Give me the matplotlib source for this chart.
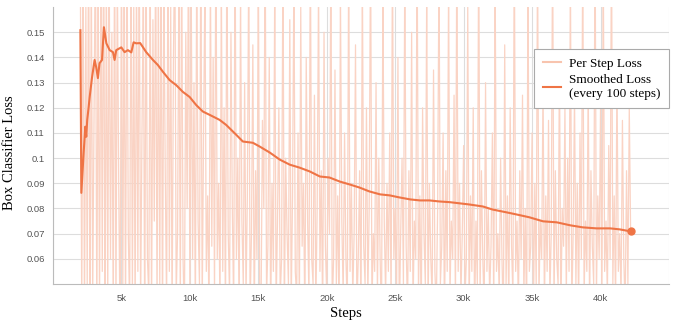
import numpy as np
import matplotlib
matplotlib.use("Agg")
import matplotlib.pyplot as plt

# per step loss (x1000), sampled every 100 steps from 2k to 42.2k
raw_steps = np.arange(2000, 42201, 100)
raw_loss = np.array([
    170, 40, 185, 35, 160, 50, 195, 30, 175, 45, 120, 190, 35, 165, 40, 180, 55, 200, 30, 170,
    45, 185, 60, 150, 35, 190, 40, 175, 90, 30, 180, 50, 165, 35, 195, 70, 40, 185, 45, 160,
    35, 175, 55, 190, 40, 110, 170, 30, 185, 60, 45, 180, 35, 155, 75, 190, 40, 165, 50, 180,
    30, 170, 95, 40, 185, 55, 160, 35, 140, 190, 45, 70, 175, 40, 185, 60, 35, 150, 80, 190,
    45, 165, 60, 130, 35, 180, 75, 50, 190, 40, 110, 170, 55, 85, 35, 175, 65, 140, 45, 195,
    60, 90, 40, 170, 55, 120, 35, 185, 70, 45, 150, 80, 40, 190, 60, 100, 35, 165, 75, 50,
    130, 45, 85, 180, 40, 70, 145, 35, 95, 60, 175, 50, 40, 115, 80, 190, 45, 65, 140, 35,
    90, 55, 170, 40, 75, 120, 45, 60, 185, 35, 100, 70, 50, 155, 40, 85, 175, 55, 45, 110,
    40, 160, 65, 90, 35, 140, 75, 45, 190, 60, 50, 125, 40, 80, 170, 55, 95, 35, 150, 65,
    45, 100, 70, 185, 40, 60, 135, 50, 85, 35, 165, 75, 45, 110, 60, 40, 180, 55, 90, 45,
    70, 145, 40, 60, 95, 35, 175, 65, 50, 120, 45, 80, 190, 40, 70, 55, 130, 45, 100, 60,
    35, 165, 75, 45, 90, 55, 110, 40, 185, 60, 80, 45, 140, 35, 70, 100, 50, 175, 65, 40,
    95, 55, 150, 40, 75, 60, 190, 45, 85, 35, 120, 70, 50, 165, 40, 90, 60, 45, 135, 55,
    40, 80, 180, 50, 65, 110, 35, 95, 55, 170, 45, 75, 60, 125, 40, 185, 55, 90, 45, 70,
    105, 45, 60, 160, 40, 85, 55, 120, 35, 75, 50, 190, 45, 95, 60, 40, 130, 55, 80, 45,
    65, 110, 40, 175, 55, 70, 45, 100, 60, 35, 145, 50, 85, 40, 120, 65, 45, 190, 55, 75,
    40, 95, 60, 125, 45, 80, 35, 170, 55, 65, 110, 40, 90, 50, 185, 45, 75, 60, 130, 40,
    85, 55, 115, 45, 70, 190, 40, 95, 60, 50, 140, 35, 80, 65, 120, 45, 100, 55, 175, 40,
    70, 125, 50, 90, 40, 110, 60, 185, 45, 75, 55, 130, 40, 95, 65, 50, 195, 45, 85, 60,
    120, 40, 180, 55, 75, 45, 105, 60, 190, 50, 85, 40, 135, 55, 70, 45, 115, 60, 40, 95,
    50, 120, 70,
]) / 1000.0

# smoothed loss (every 100 steps), in thousands of steps
smooth_steps = [2.0, 2.07, 2.24, 2.36, 2.43, 2.5, 2.6, 2.68, 2.85, 3.04, 3.16, 3.28,
                3.4, 3.58, 3.72, 3.9, 4.14, 4.38, 4.5, 4.62, 4.99, 5.23, 5.47, 5.72,
                5.89, 6.08, 6.37, 6.81, 7.3, 7.66, 8.03, 8.52, 9.0, 9.49, 9.98, 10.46,
                10.95, 11.44, 12.17, 12.65, 13.38, 13.87, 14.6, 15.1, 15.84, 16.57,
                17.3, 18.03, 18.76, 19.5, 20.2, 20.95, 21.7, 22.4, 23.1, 23.9, 24.6,
                25.3, 26.1, 26.8, 27.5, 28.2, 29.0, 30.4, 31.4, 32.1, 33.1, 33.8,
                34.8, 35.8, 36.8, 37.8, 38.7, 39.7, 40.7, 41.4, 42.2]
smooth_loss = [0.1508, 0.0862, 0.1022, 0.1125, 0.1085, 0.1152, 0.120, 0.1243, 0.132,
               0.139, 0.136, 0.1318, 0.1377, 0.139, 0.152, 0.1456, 0.1429, 0.1421,
               0.139, 0.1429, 0.144, 0.1421, 0.1429, 0.142, 0.146, 0.1456, 0.1457,
               0.1421, 0.139, 0.137, 0.1343, 0.131, 0.129, 0.1263, 0.1243, 0.1211,
               0.1185, 0.1172, 0.1152, 0.1132, 0.1093, 0.1066, 0.1061, 0.1046, 0.1022,
               0.0994, 0.0974, 0.0962, 0.0947, 0.0927, 0.0923, 0.0907, 0.0895, 0.0883,
               0.0868, 0.0856, 0.0852, 0.0844, 0.0836, 0.0832, 0.0832, 0.0828, 0.0825,
               0.0816, 0.0808, 0.0796, 0.0785, 0.0777, 0.0765, 0.0749, 0.0745, 0.0733,
               0.0725, 0.0721, 0.0721, 0.0717, 0.0709]

y_ticks = [0.06, 0.07, 0.08, 0.09, 0.1, 0.11, 0.12, 0.13, 0.14, 0.15]
y_labels = ["0.06", "0.07", "0.08", "0.09", "0.1", "0.11", "0.12", "0.13", "0.14", "0.15"]
x_ticks = [5000, 10000, 15000, 20000, 25000, 30000, 35000, 40000]
x_labels = ["5k", "10k", "15k", "20k", "25k", "30k", "35k", "40k"]

raw_color = "#f8c4ae"
smooth_color = "#ef7445"

fig = plt.figure(figsize=(6.76, 3.22), dpi=100)
ax = fig.add_axes([0.0784, 0.118, 0.9112, 0.860])

ax.plot(raw_steps, raw_loss, color="#fad3c4", lw=0.9,
        label="Per Step Loss", zorder=2)
sx = np.array(smooth_steps) * 1000
ax.plot(sx, smooth_loss, color=smooth_color, lw=1.5,
        label="Smoothed Loss\n(every 100 steps)", zorder=3)
ax.plot(sx[-1], smooth_loss[-1], "o", color=smooth_color, ms=5, zorder=4)

ax.set_xlim(0, 45000)
ax.set_ylim(0.05, 0.16)
ax.set_yticks(y_ticks)
ax.set_yticklabels(y_labels)
ax.set_xticks(x_ticks)
ax.set_xticklabels(x_labels)
ax.set_xticks(np.arange(0, 45001, 5000), minor=True)
ax.grid(True, which="both", color="#dddddd", lw=0.8, zorder=0)
ax.set_axisbelow(True)
ax.tick_params(which="both", length=0, labelsize=6.8, labelcolor="#555555", pad=6)
ax.tick_params(axis="x", pad=7)
for lbl in ax.get_xticklabels() + ax.get_yticklabels():
    lbl.set_family("Liberation Sans")

for s in ["top", "right"]:
    ax.spines[s].set_visible(False)
for s in ["left", "bottom"]:
    ax.spines[s].set_color("#bbbbbb")

ax.set_xlabel("Steps", family="Liberation Serif", fontsize=10.5)
ax.set_ylabel("Box Classifier Loss", family="Liberation Serif", fontsize=10.5)
ax.xaxis.set_label_coords(0.476, -0.082)
ax.yaxis.set_label_coords(-0.060, 0.475)

leg = ax.legend(loc="upper right", bbox_to_anchor=(1.0, 0.848), fancybox=False,
                prop={"family": "Liberation Serif", "size": 9.5},
                handlelength=1.4, handletextpad=0.6, borderpad=0.65,
                labelspacing=0.3, borderaxespad=0,
                framealpha=1.0, edgecolor="#aaaaaa")
leg.legend_handles[0].set_color(raw_color)
leg.legend_handles[0].set_linewidth(1.5)
leg.get_frame().set_linewidth(0.8)

fig.savefig("out.png", dpi=100)
